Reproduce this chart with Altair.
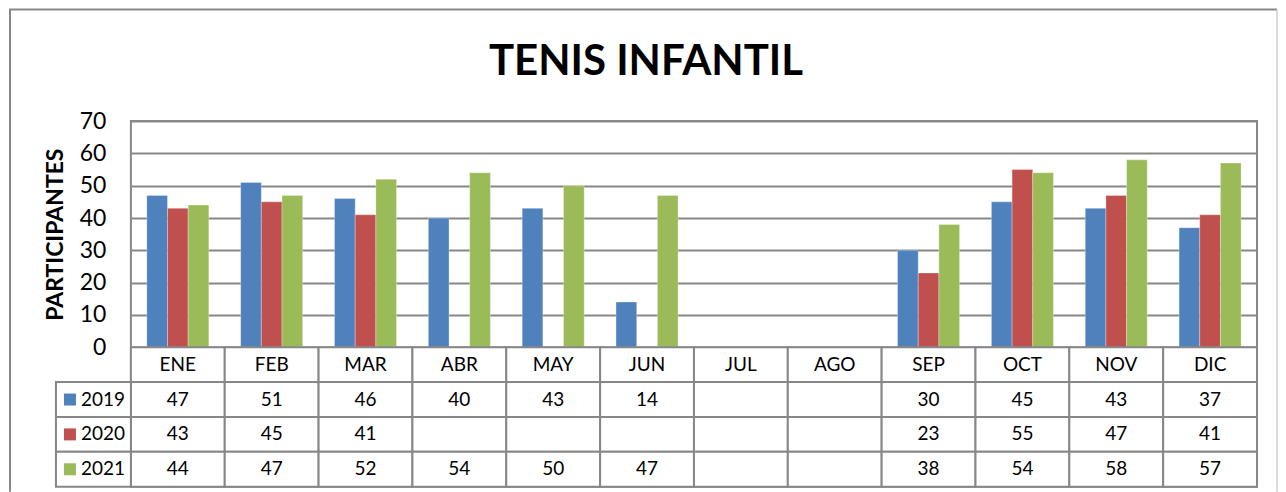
import altair as alt
import pandas as pd

# ---- data ----
months = ["ENE", "FEB", "MAR", "ABR", "MAY", "JUN", "JUL", "AGO", "SEP", "OCT", "NOV", "DIC"]
years = ["2019", "2020", "2021"]
v2019 = [47, 51, 46, 40, 43, 14, None, None, 30, 45, 43, 37]
v2020 = [43, 45, 41, None, None, None, None, None, 23, 55, 47, 41]
v2021 = [44, 47, 52, 54, 50, 47, None, None, 38, 54, 58, 57]
y_ticks = [0, 10, 20, 30, 40, 50, 60, 70]
title_text = "TENIS INFANTIL"
y_title = "PARTICIPANTES"
colors = ["#4F81BD", "#C0504D", "#9BBB59"]

# ---- layout constants ----
W = 1127
PLOT_H = 226.3
ROW_H = 34.9
H = PLOT_H + 4 * ROW_H
GRAY = "#878787"
FONT = "Lato"

records = []
for yr, vals in zip(years, [v2019, v2020, v2021]):
    for m, v in zip(months, vals):
        records.append({"month": m, "year": yr, "value": v})
df = pd.DataFrame(records)
bars_df = df.dropna().copy()

rows_order = ["mes"] + years
cells = [{"month": m, "row": "mes", "label": m} for m in months]
for yr, vals in zip(years, [v2019, v2020, v2021]):
    for m, v in zip(months, vals):
        cells.append({"month": m, "row": yr, "label": "" if v is None else str(v)})
cells_df = pd.DataFrame(cells)
legend_df = pd.DataFrame({"row": years, "year": years})
one = pd.DataFrame({"k": [0]})

x_enc = alt.X("month:N", sort=months, scale=alt.Scale(paddingInner=0, paddingOuter=0), axis=None)
row_scale = alt.Scale(domain=rows_order, range=[PLOT_H, H], paddingInner=0, paddingOuter=0)
row_enc = alt.Y("row:N", scale=row_scale, axis=None)
color_scale = alt.Scale(domain=years, range=colors)

bars = alt.Chart(bars_df).mark_bar(stroke="white", strokeWidth=0.6, strokeOpacity=0.5).encode(
    x=x_enc,
    xOffset=alt.XOffset("year:N", sort=years, scale=alt.Scale(paddingInner=0, paddingOuter=0.77)),
    y=alt.Y(
        "value:Q",
        scale=alt.Scale(domain=[0, 70], range=[PLOT_H, 0], nice=False, zero=True),
        axis=alt.Axis(
            values=y_ticks,
            title=y_title,
            titleFont=FONT,
            titleFontSize=23,
            titleFontWeight="bold",
            titleColor="black",
            titleAngle=270,
            titleX=-75,
            titleY=PLOT_H / 2,
            titleAlign="center",
            titleBaseline="middle",
            labelFont=FONT,
            labelFontSize=23,
            labelColor="black",
            labelPadding=25,
            ticks=False,
            domain=False,
            grid=True,
            gridColor=GRAY,
            gridWidth=2,
        ),
    ),
    color=alt.Color("year:N", scale=color_scale, legend=None),
)

cell_rects = alt.Chart(cells_df).mark_rect(fill="white", stroke=GRAY, strokeWidth=2).encode(
    x=x_enc, y=row_enc
)
cell_text = alt.Chart(cells_df).mark_text(font=FONT, fontSize=19, color="black").encode(
    x=x_enc, y=row_enc, text="label:N"
)
legend_rects = alt.Chart(legend_df).mark_rect(fill="white", stroke=GRAY, strokeWidth=2).encode(
    x=alt.value(-75), x2=alt.value(0), y=row_enc
)
legend_sq = alt.Chart(legend_df).mark_square(size=144, opacity=1).encode(
    x=alt.value(-61), y=row_enc, color=alt.Color("year:N", scale=color_scale, legend=None)
)
legend_txt = alt.Chart(legend_df).mark_text(font=FONT, fontSize=19, color="black", align="left").encode(
    x=alt.value(-50), y=row_enc, text="year:N"
)

title = alt.Chart(one).mark_text(
    font=FONT, fontSize=42, fontWeight="bold", color="black", align="center", baseline="alphabetic"
).encode(x=alt.value(515.5), y=alt.value(-45.7), text=alt.value(title_text))

frame_left = alt.Chart(one).mark_rule(color=GRAY, strokeWidth=2).encode(
    x=alt.value(-121), y=alt.value(-111.7), y2=alt.value(H + 5)
)
frame_top = alt.Chart(one).mark_rule(color=GRAY, strokeWidth=2).encode(
    x=alt.value(-122), x2=alt.value(1147), y=alt.value(-111.7)
)
frame_right = alt.Chart(one).mark_rule(color="#cfcfcf", strokeWidth=1.5).encode(
    x=alt.value(1147), y=alt.value(-111.7), y2=alt.value(H + 5)
)

table = alt.layer(cell_rects, cell_text, legend_rects, legend_sq, legend_txt, title,
                  frame_left, frame_top, frame_right)

chart = (
    alt.layer(bars, table)
    .resolve_scale(y="independent")
    .properties(width=W, height=H, padding=0)
    .configure_view(stroke=GRAY, strokeWidth=2)
)

chart.save("out.html", embed_options={"renderer": "svg", "actions": False})
